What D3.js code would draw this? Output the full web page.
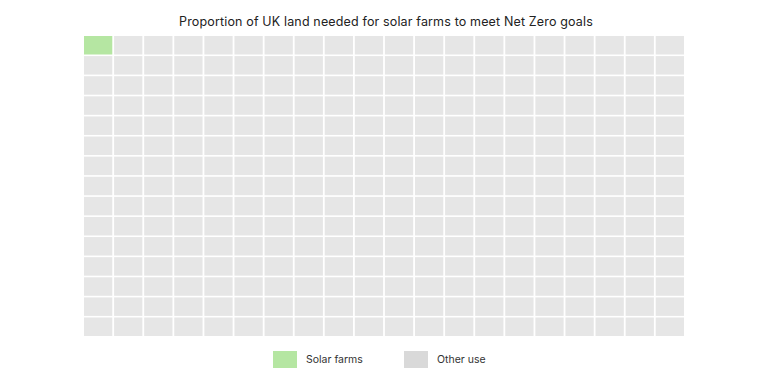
<!DOCTYPE html>
<html><head><meta charset="utf-8">
<script src="https://cdn.jsdelivr.net/npm/d3@7"></script>
<style>body{margin:0;background:#fff;} svg{display:block;font-family:Inter, "Noto Sans", sans-serif;}</style>
</head><body><svg id="c" width="765" height="382"></svg>
<script>
const title = "Proportion of UK land needed for solar farms to meet Net Zero goals";
const categories = ["Solar farms", "Other use"];
const counts = [1, 299];
const colors = ["#b5e6a2", "#e6e6e6"];
const legendColors = ["#b5e6a2", "#d9d9d9"];
const nCols = 20, nRows = 15;

const svg = d3.select("#c");
const cells = [];
categories.forEach((c, i) => { for (let k = 0; k < counts[i]; k++) cells.push(i); });

const x = d3.scaleBand().domain(d3.range(nCols)).range([84, 684]).paddingInner(0.06);
const y = d3.scaleBand().domain(d3.range(nRows)).range([36, 336]).paddingInner(0.08);

svg.append("text").attr("x", 386).attr("y", 26).attr("text-anchor", "middle")
  .attr("font-size", 12.5).attr("letter-spacing", 0.15).attr("fill", "#222").text(title);

svg.selectAll("rect.cell").data(cells).join("rect").attr("class", "cell")
  .attr("x", (d, i) => x(i % nCols)).attr("y", (d, i) => y(Math.floor(i / nCols)))
  .attr("width", x.bandwidth()).attr("height", y.bandwidth())
  .attr("fill", d => colors[d]);

const lx = [273, 404];
const lg = svg.selectAll("g.leg").data(categories).join("g").attr("class", "leg")
  .attr("transform", (d, i) => `translate(${lx[i]},351)`);
lg.append("rect").attr("width", 24).attr("height", 17).attr("fill", (d, i) => legendColors[i]);
lg.append("text").attr("x", 33).attr("y", 12).attr("font-size", 10.5).attr("fill", "#333").text(d => d);
</script></body></html>
